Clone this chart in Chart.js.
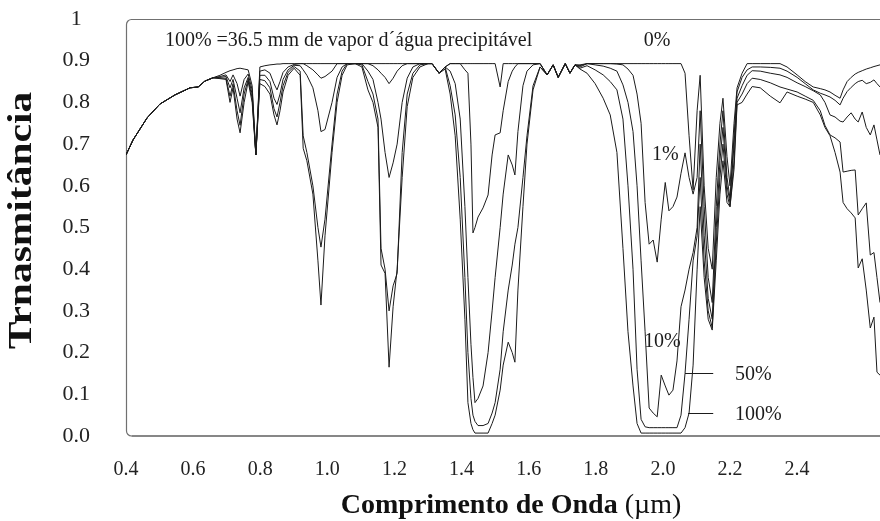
<!DOCTYPE html>
<html>
<head>
<meta charset="utf-8">
<script src="https://cdn.jsdelivr.net/npm/chart.js"></script>
<style>
  html, body { margin: 0; padding: 0; background: #fff; overflow: hidden; }
  #box { width: 880px; height: 521px; }
</style>
</head>
<body>
<div id="box"><canvas id="transm"></canvas></div>
<script>
// wavelength grid (um), shared by all curves
const wavelength = [
  0.400, 0.421, 0.463, 0.501, 0.546, 0.591, 0.615, 0.635, 0.659,
  0.680, 0.698, 0.710, 0.719, 0.731, 0.740, 0.752, 0.764, 0.776, 0.787, 0.799, 0.814, 0.829, 0.841, 0.850, 0.859, 0.868, 0.883, 0.901,
  0.919, 0.928, 0.939, 0.957, 0.972, 0.981, 0.993, 1.014, 1.029, 1.044, 1.059, 1.083,
  1.103, 1.121, 1.136, 1.151, 1.160, 1.172, 1.184, 1.196, 1.208, 1.223, 1.238, 1.255, 1.276, 1.300,
  1.312, 1.333, 1.351,
  1.366, 1.381, 1.396, 1.410, 1.419, 1.428, 1.434, 1.440, 1.449, 1.464, 1.479, 1.491, 1.500, 1.515, 1.524, 1.539, 1.551, 1.559, 1.568, 1.583, 1.595, 1.613, 1.634,
  1.655, 1.673, 1.688, 1.709, 1.723, 1.738, 1.753,
  1.774, 1.798, 1.822, 1.843, 1.863, 1.881, 1.896, 1.911, 1.923, 1.935, 1.947, 1.959, 1.971, 1.983, 1.995, 2.007, 2.018, 2.030, 2.042, 2.054, 2.066, 2.078, 2.090,
  2.102, 2.111, 2.123, 2.135, 2.147, 2.159, 2.170, 2.179, 2.191, 2.200, 2.212, 2.221,
  2.236, 2.251, 2.266, 2.290, 2.320, 2.349, 2.370, 2.400, 2.424, 2.448, 2.469, 2.483, 2.498, 2.513, 2.528, 2.537, 2.549, 2.561, 2.573, 2.582, 2.594, 2.606, 2.618, 2.629, 2.638, 2.647, 2.662
]

// transmittance, 0% water vapour
const tr0 = [
  0.674, 0.710, 0.763, 0.796, 0.818, 0.835, 0.837, 0.851, 0.859,
  0.865, 0.872, 0.876, 0.878, 0.881, 0.882, 0.880, 0.878, 0.840, 0.674, 0.885, 0.888, 0.890, 0.891, 0.892, 0.892, 0.893, 0.893, 0.893,
  0.893, 0.893, 0.893, 0.893, 0.893, 0.893, 0.893, 0.893, 0.893, 0.893, 0.893, 0.893,
  0.893, 0.893, 0.893, 0.893, 0.893, 0.893, 0.893, 0.893, 0.893, 0.893, 0.893, 0.893, 0.893, 0.893,
  0.893, 0.870, 0.885,
  0.893, 0.893, 0.893, 0.893, 0.893, 0.893, 0.893, 0.893, 0.893, 0.893, 0.893, 0.893, 0.893, 0.837, 0.893, 0.893, 0.893, 0.893, 0.893, 0.893, 0.893, 0.893, 0.893,
  0.866, 0.890, 0.860, 0.893, 0.870, 0.890, 0.890,
  0.893, 0.893, 0.893, 0.893, 0.893, 0.893, 0.893, 0.893, 0.893, 0.893, 0.893, 0.893, 0.893, 0.893, 0.893, 0.893, 0.893, 0.893, 0.893, 0.893, 0.870, 0.720, 0.590,
  0.780, 0.865, 0.600, 0.450, 0.400, 0.620, 0.750, 0.810, 0.670, 0.600, 0.750, 0.835,
  0.870, 0.893, 0.893, 0.893, 0.893, 0.893, 0.885, 0.866, 0.850, 0.837, 0.833, 0.830, 0.825, 0.817, 0.810, 0.830, 0.850, 0.860, 0.868, 0.872, 0.876, 0.880, 0.883, 0.886, 0.888, 0.890, 0.892
]

// 1%
const tr1 = [
  0.674, 0.710, 0.763, 0.796, 0.818, 0.835, 0.837, 0.851, 0.859,
  0.862, 0.866, 0.850, 0.866, 0.845, 0.815, 0.855, 0.868, 0.830, 0.674, 0.875, 0.878, 0.870, 0.845, 0.830, 0.850, 0.872, 0.885, 0.891,
  0.893, 0.893, 0.888, 0.878, 0.866, 0.858, 0.862, 0.875, 0.893, 0.893, 0.893, 0.893,
  0.893, 0.893, 0.888, 0.878, 0.870, 0.860, 0.845, 0.858, 0.875, 0.888, 0.893, 0.893, 0.893, 0.893,
  0.893, 0.870, 0.885,
  0.893, 0.893, 0.893, 0.878, 0.870, 0.700, 0.487, 0.500, 0.525, 0.547, 0.578, 0.674, 0.722, 0.727, 0.780, 0.850, 0.875, 0.885, 0.893, 0.893, 0.893, 0.893, 0.893,
  0.866, 0.890, 0.860, 0.893, 0.870, 0.890, 0.888,
  0.893, 0.893, 0.893, 0.893, 0.892, 0.890, 0.880, 0.865, 0.820, 0.750, 0.560, 0.460, 0.470, 0.417, 0.520, 0.608, 0.540, 0.550, 0.573, 0.630, 0.679, 0.620, 0.580,
  0.620, 0.780, 0.550, 0.380, 0.320, 0.550, 0.700, 0.780, 0.620, 0.570, 0.720, 0.825,
  0.860, 0.878, 0.885, 0.885, 0.884, 0.882, 0.875, 0.860, 0.845, 0.830, 0.822, 0.818, 0.813, 0.805, 0.794, 0.810, 0.826, 0.836, 0.845, 0.850, 0.853, 0.845, 0.848, 0.854, 0.845, 0.837, 0.840
]

// 10%
const tr10 = [
  0.674, 0.710, 0.763, 0.796, 0.818, 0.835, 0.837, 0.851, 0.859,
  0.860, 0.862, 0.835, 0.855, 0.810, 0.775, 0.835, 0.860, 0.820, 0.674, 0.865, 0.865, 0.850, 0.810, 0.795, 0.820, 0.855, 0.878, 0.889,
  0.888, 0.878, 0.865, 0.835, 0.780, 0.730, 0.735, 0.800, 0.860, 0.885, 0.893, 0.893,
  0.893, 0.875, 0.855, 0.800, 0.760, 0.680, 0.620, 0.655, 0.700, 0.800, 0.858, 0.885, 0.893, 0.893,
  0.893, 0.870, 0.885,
  0.875, 0.845, 0.760, 0.550, 0.380, 0.220, 0.140, 0.080, 0.090, 0.120, 0.200, 0.300, 0.380, 0.500, 0.580, 0.674, 0.650, 0.626, 0.730, 0.840, 0.875, 0.890, 0.893,
  0.866, 0.890, 0.860, 0.893, 0.870, 0.890, 0.885,
  0.893, 0.890, 0.887, 0.882, 0.875, 0.842, 0.800, 0.730, 0.600, 0.420, 0.250, 0.067, 0.055, 0.046, 0.146, 0.120, 0.098, 0.110, 0.180, 0.310, 0.350, 0.400, 0.440,
  0.500, 0.700, 0.480, 0.330, 0.280, 0.500, 0.660, 0.740, 0.600, 0.560, 0.700, 0.810,
  0.840, 0.865, 0.876, 0.875, 0.870, 0.866, 0.860, 0.847, 0.838, 0.828, 0.818, 0.800, 0.770, 0.765, 0.755, 0.753, 0.765, 0.775, 0.760, 0.753, 0.777, 0.740, 0.722, 0.746, 0.710, 0.674, 0.660
]

// 50%
const tr50 = [
  0.674, 0.710, 0.763, 0.796, 0.818, 0.835, 0.837, 0.851, 0.859,
  0.858, 0.858, 0.815, 0.845, 0.780, 0.745, 0.820, 0.855, 0.810, 0.674, 0.855, 0.852, 0.835, 0.785, 0.765, 0.800, 0.840, 0.872, 0.886,
  0.875, 0.720, 0.680, 0.600, 0.500, 0.453, 0.520, 0.700, 0.820, 0.875, 0.893, 0.893,
  0.890, 0.850, 0.820, 0.760, 0.450, 0.400, 0.300, 0.360, 0.390, 0.680, 0.820, 0.870, 0.890, 0.893,
  0.893, 0.870, 0.885,
  0.840, 0.770, 0.620, 0.380, 0.200, 0.090, 0.050, 0.035, 0.025, 0.025, 0.030, 0.055, 0.080, 0.160, 0.250, 0.350, 0.410, 0.460, 0.500, 0.620, 0.720, 0.840, 0.885,
  0.866, 0.890, 0.860, 0.893, 0.870, 0.890, 0.882,
  0.888, 0.878, 0.866, 0.850, 0.830, 0.760, 0.600, 0.400, 0.160, 0.040, 0.022, 0.020, 0.020, 0.020, 0.020, 0.020, 0.020, 0.020, 0.020, 0.050, 0.150, 0.280, 0.420,
  0.480, 0.620, 0.420, 0.300, 0.260, 0.460, 0.620, 0.700, 0.580, 0.550, 0.660, 0.800,
  0.820, 0.845, 0.858, 0.855, 0.847, 0.837, 0.832, 0.825, 0.815, 0.805, 0.780, 0.745, 0.722, 0.715, 0.705, 0.633, 0.635, 0.637, 0.638, 0.530, 0.545, 0.559, 0.434, 0.440, 0.380, 0.320, 0.300
]

// 100% (36.5 mm precipitable water)
const tr100 = [
  0.674, 0.710, 0.763, 0.796, 0.818, 0.835, 0.837, 0.851, 0.859,
  0.857, 0.855, 0.800, 0.835, 0.760, 0.727, 0.800, 0.850, 0.800, 0.674, 0.845, 0.838, 0.820, 0.770, 0.746, 0.780, 0.825, 0.865, 0.882,
  0.865, 0.690, 0.660, 0.580, 0.420, 0.314, 0.480, 0.680, 0.800, 0.865, 0.890, 0.893,
  0.885, 0.830, 0.800, 0.740, 0.410, 0.390, 0.165, 0.310, 0.400, 0.620, 0.790, 0.860, 0.885, 0.893,
  0.893, 0.870, 0.880,
  0.820, 0.720, 0.520, 0.280, 0.080, 0.030, 0.015, 0.007, 0.007, 0.007, 0.007, 0.030, 0.050, 0.110, 0.170, 0.225, 0.200, 0.177, 0.350, 0.550, 0.700, 0.830, 0.885,
  0.866, 0.890, 0.860, 0.893, 0.870, 0.890, 0.880,
  0.870, 0.845, 0.810, 0.770, 0.680, 0.450, 0.250, 0.120, 0.030, 0.007, 0.007, 0.007, 0.007, 0.007, 0.007, 0.007, 0.007, 0.007, 0.007, 0.007, 0.020, 0.055, 0.170,
  0.400, 0.550, 0.380, 0.280, 0.254, 0.420, 0.580, 0.660, 0.560, 0.550, 0.640, 0.794,
  0.800, 0.820, 0.838, 0.835, 0.815, 0.799, 0.825, 0.815, 0.808, 0.800, 0.770, 0.740, 0.720, 0.680, 0.633, 0.560, 0.545, 0.535, 0.523, 0.403, 0.425, 0.350, 0.259, 0.285, 0.153, 0.146, 0.140
]

const seriesNames = ['0%', '1%', '10%', '50%', '100%']
const seriesValues = [tr0, tr1, tr10, tr50, tr100]

const serif = "'Liberation Serif', 'Times New Roman', serif"

function makeLine(name, values) {
  return {
    label: name,
    data: wavelength.map((w, i) => ({ x: w, y: values[i] })),
    borderColor: '#1b1b1b',
    borderWidth: 1,
    pointRadius: 0,
    tension: 0,
    fill: false
  }
}

// box round the plot, open on the right like the original
const frame = {
  id: 'frame',
  beforeDatasetsDraw(chart) {
    const { ctx, chartArea: a } = chart
    const r = 5
    const l = a.left + 0.5
    ctx.save()
    ctx.lineWidth = 1.2
    ctx.strokeStyle = '#707070'
    ctx.beginPath()
    ctx.moveTo(a.right + 10, a.top + 0.5)
    ctx.lineTo(l + r, a.top + 0.5)
    ctx.arcTo(l, a.top + 0.5, l, a.top + r, r)
    ctx.lineTo(l, a.bottom - r)
    ctx.arcTo(l, a.bottom, l + r, a.bottom, r)
    ctx.stroke()
    ctx.strokeStyle = '#111'
    ctx.beginPath()
    ctx.moveTo(l + r, a.bottom)
    ctx.lineTo(a.right + 10, a.bottom)
    ctx.stroke()
    ctx.restore()
  }
}

// text notes placed in data coordinates
const notes = {
  id: 'notes',
  afterDatasetsDraw(chart) {
    const { ctx } = chart
    const xs = chart.scales.x
    const ys = chart.scales.y
    const put = (txt, x, y, align) => {
      ctx.textAlign = align
      ctx.fillText(txt, xs.getPixelForValue(x), ys.getPixelForValue(y))
    }
    const lead = (x1, x2, y) => {
      const py = Math.round(ys.getPixelForValue(y)) + 0.5
      ctx.beginPath()
      ctx.moveTo(xs.getPixelForValue(x1), py)
      ctx.lineTo(xs.getPixelForValue(x2), py)
      ctx.stroke()
    }
    ctx.save()
    ctx.fillStyle = '#1b1b1b'
    ctx.strokeStyle = '#1b1b1b'
    ctx.lineWidth = 1
    ctx.textBaseline = 'middle'
    ctx.font = '20px ' + serif
    put('100% =36.5 mm de vapor d\u00b4\u00e1gua precipit\u00e1vel', 0.516, 0.947, 'left')
    put(seriesNames[0], 1.983, 0.947, 'center')
    put(seriesNames[1], 2.007, 0.674, 'center')
    put(seriesNames[2], 1.998, 0.225, 'center')
    put(seriesNames[3], 2.215, 0.146, 'left')
    put(seriesNames[4], 2.215, 0.05, 'left')
    lead(2.066, 2.150, 0.151)
    lead(2.075, 2.150, 0.055)
    ctx.restore()
  }
}

// axis titles: y one stretched along its length, x one with a plain unit
const titles = {
  id: 'titles',
  afterDraw(chart) {
    const { ctx, chartArea: a } = chart
    ctx.save()
    ctx.fillStyle = '#111'
    // x title
    ctx.textBaseline = 'alphabetic'
    ctx.textAlign = 'left'
    ctx.font = 'bold 28px ' + serif
    const main = 'Comprimento de Onda '
    const w1 = ctx.measureText(main).width
    ctx.font = '28px ' + serif
    const w2 = ctx.measureText('(\u00b5m)').width
    const x0 = (a.left + a.right) / 2 + 8 - (w1 + w2) / 2
    ctx.font = 'bold 28px ' + serif
    ctx.fillText(main, x0, 513)
    ctx.font = '28px ' + serif
    ctx.fillText('(\u00b5m)', x0 + w1, 513)
    // y title
    ctx.translate(22, (a.top + a.bottom) / 2 - 7)
    ctx.rotate(-Math.PI / 2)
    ctx.scale(1.22, 1)
    ctx.font = 'bold 34px ' + serif
    ctx.textAlign = 'center'
    ctx.textBaseline = 'middle'
    ctx.fillText('Trnasmit\u00e2ncia', 0, 0)
    ctx.restore()
  }
}

const myChart = new Chart(document.getElementById('transm'), {
  type: 'line',
  data: {
    datasets: seriesNames.map((n, i) => makeLine(n, seriesValues[i]))
  },
  options: {
    responsive: true,
    maintainAspectRatio: false,
    animation: false,
    layout: { padding: { top: 19, right: 0, left: 0, bottom: 0 } },
    plugins: {
      legend: { display: false },
      tooltip: { enabled: false }
    },
    scales: {
      x: {
        type: 'linear',
        min: 0.4,
        max: 2.647,
        grid: { display: false, drawTicks: false },
        border: { display: false },
        ticks: {
          stepSize: 0.2,
          padding: 22,
          color: '#222',
          font: { family: serif, size: 20 },
          callback: (v) => (v > 2.45 ? null : v.toFixed(1))
        },
        afterFit: (axis) => {
          axis.height = 85
          axis.paddingLeft = 0
          axis.paddingRight = 0
        }
      },
      y: {
        min: 0,
        max: 1,
        grid: { display: false, drawTicks: false },
        border: { display: false },
        ticks: {
          stepSize: 0.1,
          padding: 36,
          crossAlign: 'center',
          color: '#222',
          font: { family: serif, size: 22 },
          callback: (v) => (v === 1 ? '1' : v.toFixed(1))
        },
        afterFit: (axis) => {
          axis.width = 126
          axis.paddingTop = 0
          axis.paddingBottom = 0
        }
      }
    }
  },
  plugins: [frame, notes, titles]
})
</script>
</body>
</html>
